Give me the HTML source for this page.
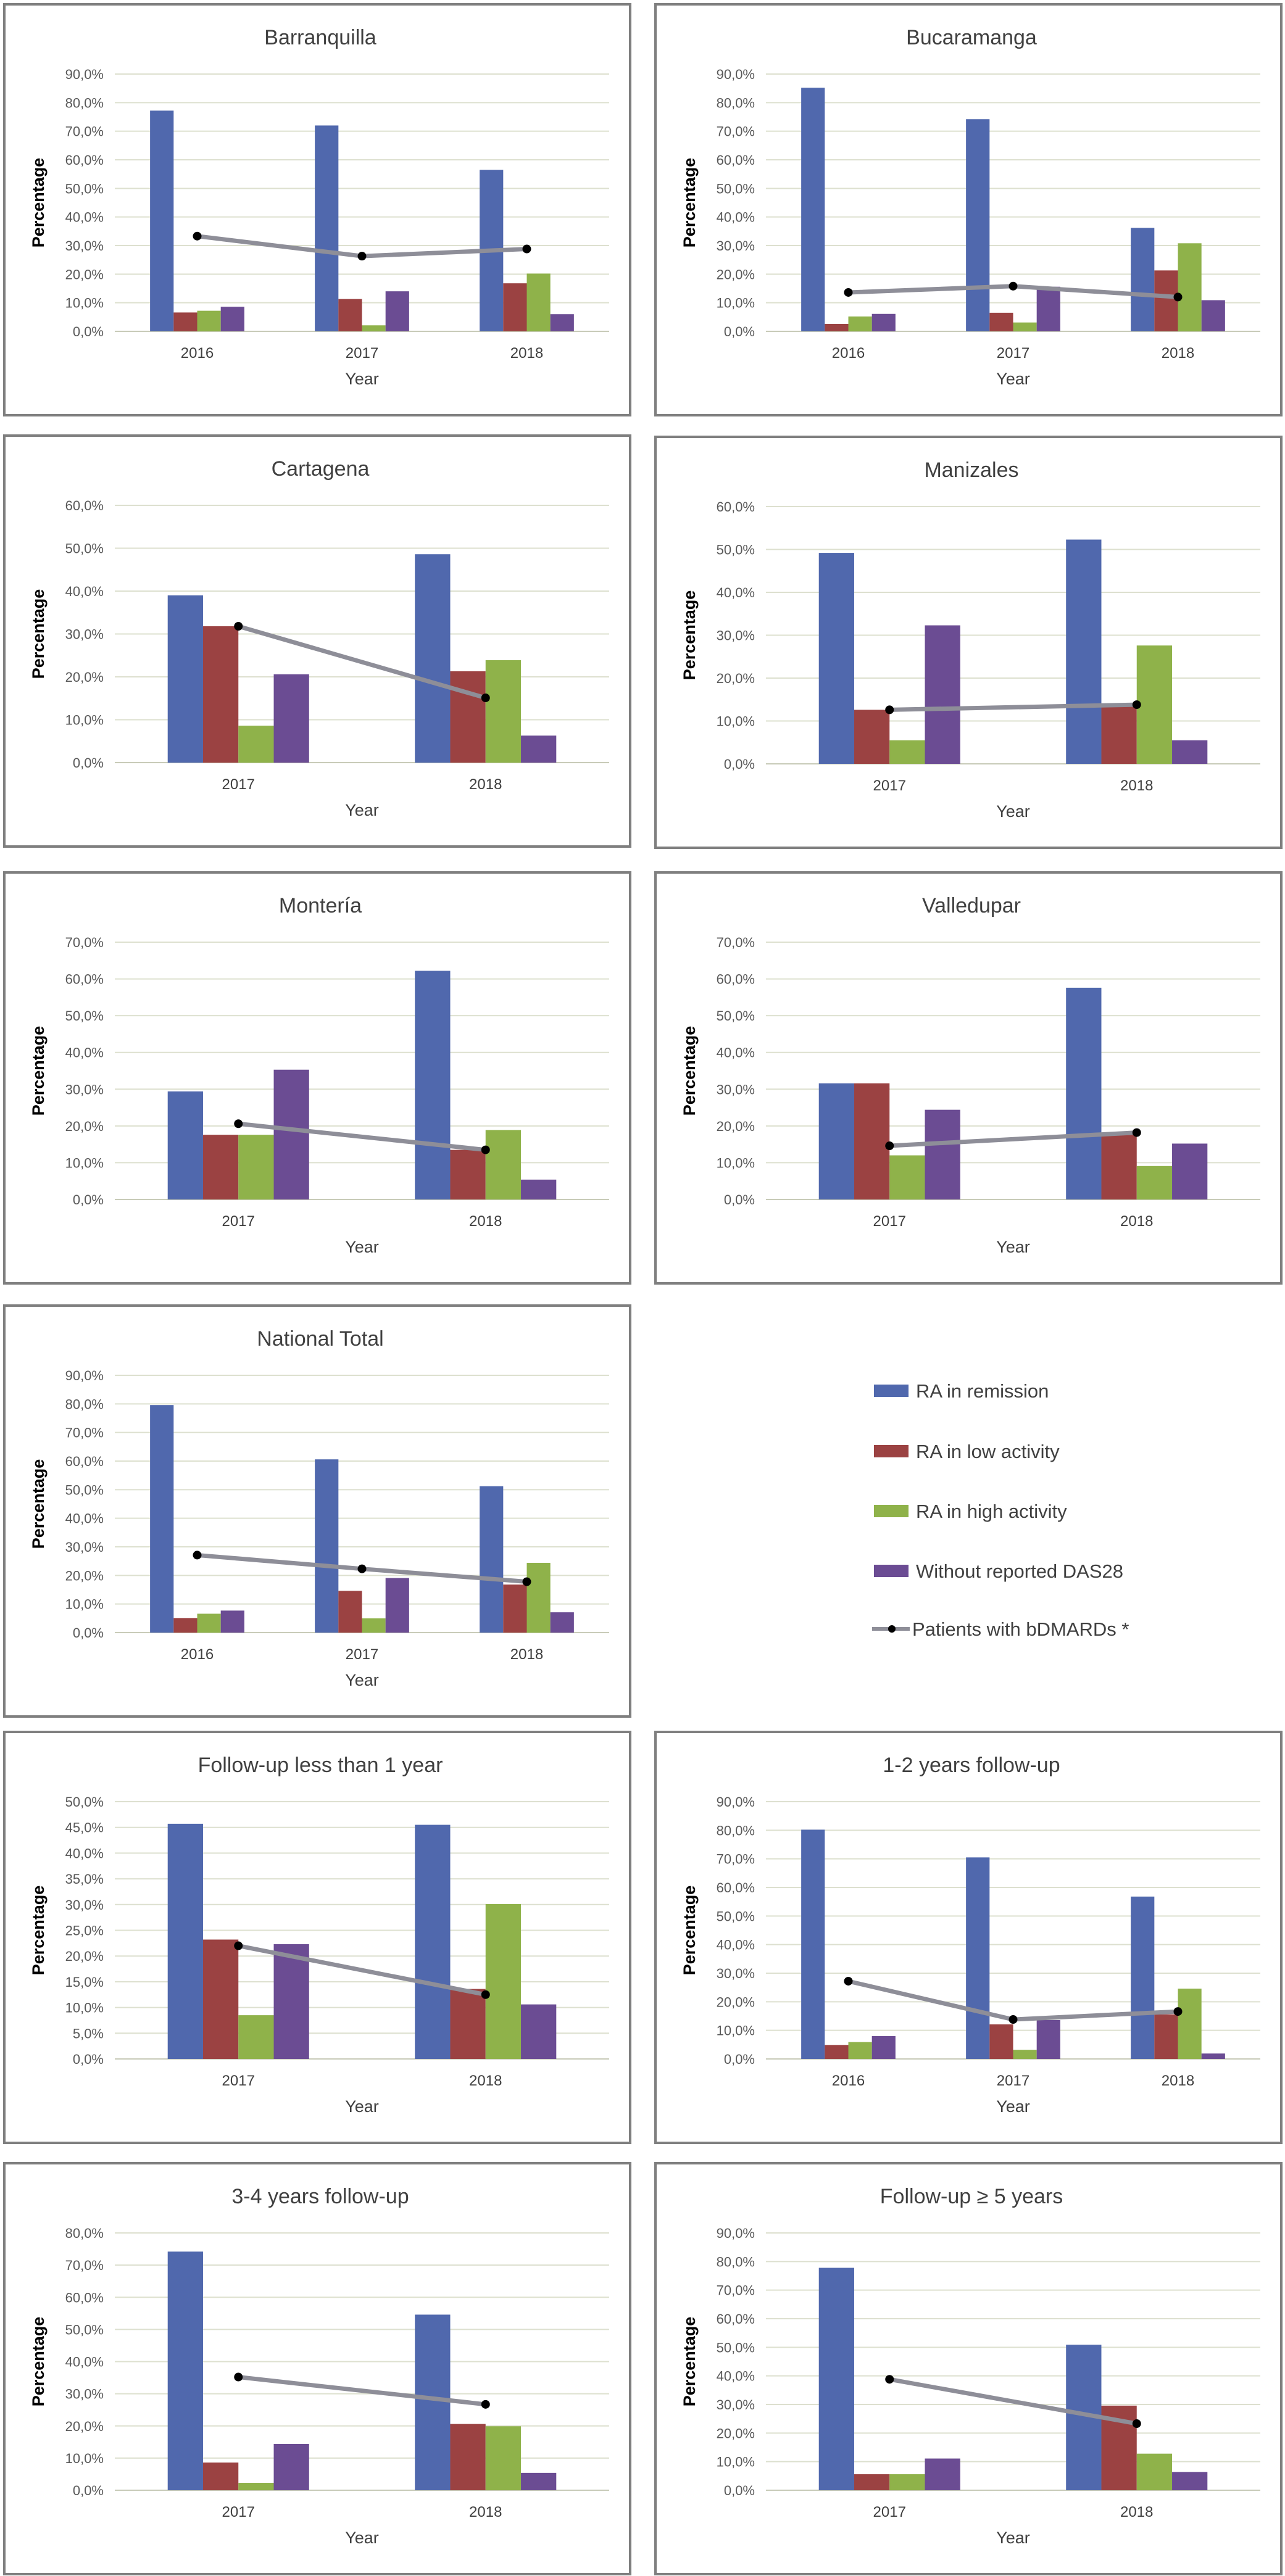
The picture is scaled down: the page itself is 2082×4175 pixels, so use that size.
<!DOCTYPE html>
<html><head><meta charset="utf-8"><style>
html,body{margin:0;padding:0;background:#fff;}
svg{display:block;}
text{font-family:"Liberation Sans",sans-serif;}
</style></head><body>
<svg id="fig" xmlns="http://www.w3.org/2000/svg" width="2082" height="4175" viewBox="0 0 2082 4175"></svg>
<script>
// ---- data ----
const barranquillaYears=["2016","2017","2018"];
const barranquillaRemission=[77.2,72.0,56.5];
const barranquillaLow=[6.6,11.3,16.8];
const barranquillaHigh=[7.2,2.1,20.2];
const barranquillaNoDas=[8.6,14.0,6.0];
const barranquillaBio=[33.3,26.3,28.8];

const bucaramangaYears=["2016","2017","2018"];
const bucaramangaRemission=[85.2,74.2,36.2];
const bucaramangaLow=[2.6,6.5,21.3];
const bucaramangaHigh=[5.2,3.1,30.8];
const bucaramangaNoDas=[6.1,15.6,10.9];
const bucaramangaBio=[13.6,15.8,12.0];

const cartagenaYears=["2017","2018"];
const cartagenaRemission=[39.0,48.6];
const cartagenaLow=[31.8,21.3];
const cartagenaHigh=[8.6,23.9];
const cartagenaNoDas=[20.6,6.3];
const cartagenaBio=[31.8,15.1];

const manizalesYears=["2017","2018"];
const manizalesRemission=[49.2,52.3];
const manizalesLow=[12.6,13.8];
const manizalesHigh=[5.5,27.6];
const manizalesNoDas=[32.3,5.5];
const manizalesBio=[12.6,13.8];

const monteriaYears=["2017","2018"];
const monteriaRemission=[29.4,62.2];
const monteriaLow=[17.6,13.5];
const monteriaHigh=[17.6,18.9];
const monteriaNoDas=[35.3,5.4];
const monteriaBio=[20.6,13.5];

const valleduparYears=["2017","2018"];
const valleduparRemission=[31.6,57.6];
const valleduparLow=[31.6,18.2];
const valleduparHigh=[12.0,9.1];
const valleduparNoDas=[24.4,15.2];
const valleduparBio=[14.6,18.2];

const nationalYears=["2016","2017","2018"];
const nationalRemission=[79.6,60.6,51.2];
const nationalLow=[5.1,14.6,16.8];
const nationalHigh=[6.6,5.0,24.4];
const nationalNoDas=[7.7,19.1,7.1];
const nationalBio=[27.1,22.3,17.8];

const lt1Years=["2017","2018"];
const lt1Remission=[45.7,45.5];
const lt1Low=[23.2,13.6];
const lt1High=[8.5,30.1];
const lt1NoDas=[22.3,10.6];
const lt1Bio=[22.0,12.5];

const y12Years=["2016","2017","2018"];
const y12Remission=[80.2,70.5,56.8];
const y12Low=[4.9,12.1,15.6];
const y12High=[5.9,3.2,24.6];
const y12NoDas=[8.0,13.6,1.9];
const y12Bio=[27.2,13.8,16.6];

const y34Years=["2017","2018"];
const y34Remission=[74.2,54.6];
const y34Low=[8.6,20.6];
const y34High=[2.3,19.9];
const y34NoDas=[14.4,5.4];
const y34Bio=[35.2,26.7];

const y5Years=["2017","2018"];
const y5Remission=[77.8,50.9];
const y5Low=[5.6,29.6];
const y5High=[5.6,12.8];
const y5NoDas=[11.1,6.4];
const y5Bio=[38.8,23.3];

const seriesNames=["RA in remission","RA in low activity","RA in high activity","Without reported DAS28","Patients with bDMARDs *"];

// ---- drawing ----
const NS="http://www.w3.org/2000/svg";
const svg=document.getElementById('fig');
const colors=["#5068ad","#9b4242","#8fb24a","#6b4c93"];
function mk(tag,attrs,parent){const e=document.createElementNS(NS,tag);for(const k in attrs)e.setAttribute(k,attrs[k]);(parent||svg).appendChild(e);return e;}
function chart(id,title,px,py,years,bars,bio,maxV,step){
  const g=mk('g',{});
  
  
  const fr=mk('rect',{x:px,y:py,width:1014,height:666,fill:'#fff',stroke:'#7f7f7f','stroke-width':4},g);
  
  
  const t=mk('text',{x:px+512,y:py+65,'text-anchor':'middle','font-size':34,fill:'#404040'},g);t.textContent=title;
  
  
  const L=px+179,R=px+980,T=py+113,B=py+530;
  const yS=v=>B-(v/maxV)*(B-T);
  const n=Math.round(maxV/step);
  for(let i=0;i<=n;i++){
    const v=i*step,y=yS(v);
    const gl=mk('line',{x1:L,x2:R,y1:y,y2:y,stroke:i==0?'#c8cbb8':'#dde0cf','stroke-width':2},g);
    
    
    const tl=mk('text',{x:L-18,y:y+8,'text-anchor':'end','font-size':22,fill:'#595959'},g);
    tl.textContent=v.toFixed(1).replace('.',',')+'%';
    
    
  }
  const cw=(R-L)/years.length, bw=cw*0.572/4;
  const cx=i=>L+cw*(i+0.5);
  years.forEach((yr,i)=>{
    bars.forEach((s,k)=>{
      const v=s[i];
      const r=mk('rect',{x:cx(i)-2*bw+k*bw,y:yS(v),width:bw,height:B-yS(v),fill:colors[k]},g);
      
      
    });
    const xl=mk('text',{x:cx(i),y:py+573,'text-anchor':'middle','font-size':24,fill:'#404040'},g);xl.textContent=yr;
    
    
  });
  const pts=bio.map((v,i)=>cx(i)+','+yS(v)).join(' ');
  const pl=mk('polyline',{points:pts,fill:'none',stroke:'#8e8e98','stroke-width':7,'stroke-linejoin':'round'},g);
  
  
  bio.forEach((v,i)=>{
    const c=mk('circle',{cx:cx(i),cy:yS(v),r:7,fill:'#000'},g);
    
    
  });
  const xa=mk('text',{x:(L+R)/2,y:py+616,'text-anchor':'middle','font-size':27,fill:'#404040'},g);xa.textContent='Year';
  
  
  const ya=mk('text',{x:0,y:0,'text-anchor':'middle','font-size':27,'font-weight':'bold',fill:'#000',transform:`translate(${px+64},${(T+B)/2}) rotate(-90)`},g);ya.textContent='Percentage';
  
  
}
const LX=7,RX=1062;
chart('barranquilla','Barranquilla',LX,7,barranquillaYears,[barranquillaRemission,barranquillaLow,barranquillaHigh,barranquillaNoDas],barranquillaBio,90,10);
chart('bucaramanga','Bucaramanga',RX,7,bucaramangaYears,[bucaramangaRemission,bucaramangaLow,bucaramangaHigh,bucaramangaNoDas],bucaramangaBio,90,10);
chart('cartagena','Cartagena',LX,706,cartagenaYears,[cartagenaRemission,cartagenaLow,cartagenaHigh,cartagenaNoDas],cartagenaBio,60,10);
chart('manizales','Manizales',RX,708,manizalesYears,[manizalesRemission,manizalesLow,manizalesHigh,manizalesNoDas],manizalesBio,60,10);
chart('monteria','Montería',LX,1414,monteriaYears,[monteriaRemission,monteriaLow,monteriaHigh,monteriaNoDas],monteriaBio,70,10);
chart('valledupar','Valledupar',RX,1414,valleduparYears,[valleduparRemission,valleduparLow,valleduparHigh,valleduparNoDas],valleduparBio,70,10);
chart('national','National Total',LX,2116,nationalYears,[nationalRemission,nationalLow,nationalHigh,nationalNoDas],nationalBio,90,10);
chart('followup-lt1','Follow-up less than 1 year',LX,2807,lt1Years,[lt1Remission,lt1Low,lt1High,lt1NoDas],lt1Bio,50,5);
chart('followup-1-2','1-2 years follow-up',RX,2807,y12Years,[y12Remission,y12Low,y12High,y12NoDas],y12Bio,90,10);
chart('followup-3-4','3-4 years follow-up',LX,3506,y34Years,[y34Remission,y34Low,y34High,y34NoDas],y34Bio,80,10);
chart('followup-5','Follow-up ≥ 5 years',RX,3506,y5Years,[y5Remission,y5Low,y5High,y5NoDas],y5Bio,90,10);

// legend
const lg=mk('g',{});


const legY=[2254,2352,2449,2546,2640];
seriesNames.forEach((nm,k)=>{
  const y=legY[k];
  if(k<4){
    const s=mk('rect',{x:1416,y:y-10,width:56,height:20,fill:colors[k]},lg);
    
    
  } else {
    const l=mk('line',{x1:1413,x2:1474,y1:y,y2:y,stroke:'#8e8e98','stroke-width':6},lg);
    
    
    const c=mk('circle',{cx:1445,cy:y,r:6,fill:'#000'},lg);
    
    
  }
  const t=mk('text',{x:k<4?1484:1478,y:y+11,'font-size':31,fill:'#404040'},lg);t.textContent=nm;
  
  
});
</script>
</body></html>
